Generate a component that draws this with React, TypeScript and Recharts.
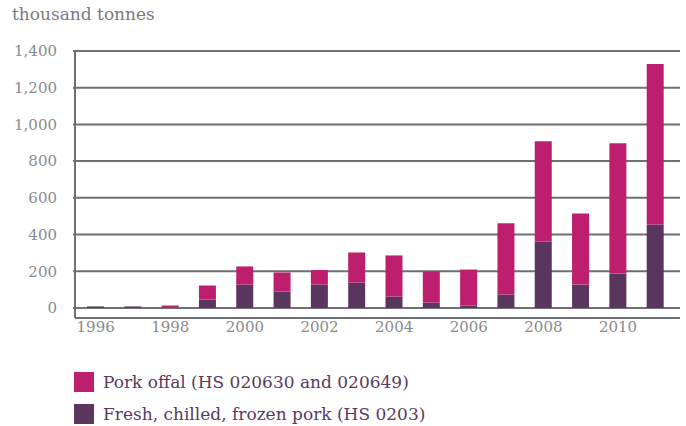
import { BarChart, Bar, XAxis, YAxis, CartesianGrid } from "recharts";

const years = [
  "1996", "1997", "1998", "1999", "2000", "2001", "2002", "2003",
  "2004", "2005", "2006", "2007", "2008", "2009", "2010", "2011",
];
// thousand tonnes
const freshPork = [8, 8, 3, 46, 127, 89, 127, 138, 62, 29, 13, 73, 362, 127, 187, 455];
const porkOffal = [0, 0, 10, 76, 99, 104, 79, 164, 224, 169, 196, 388, 546, 388, 710, 874];
const yTicks = [0, 200, 400, 600, 800, 1000, 1200, 1400];
const xTicks = ["1996", "1998", "2000", "2002", "2004", "2006", "2008", "2010"];

const series = [
  { key: "offal", name: "Pork offal (HS 020630 and 020649)", color: "#bd1f6e" },
  { key: "fresh", name: "Fresh, chilled, frozen pork (HS 0203)", color: "#5a355e" },
];

const data = years.map((year, i) => ({
  year,
  fresh: freshPork[i],
  offal: porkOffal[i],
}));

const gridColor = "#6f6f74";
const textFont = "'DejaVu Serif', serif";

const App = () => {
  return (
    <div
      style={{
        position: "absolute",
        left: 0,
        top: 0,
        width: 686,
        height: 426,
        background: "#fff",
        fontFamily: textFont,
      }}
    >
      <div
        style={{
          position: "absolute",
          left: 12,
          top: 4,
          fontSize: 17,
          color: "#7a7a7e",
        }}
      >
        thousand tonnes
      </div>
      <BarChart
        width={686}
        height={340}
        data={data}
        margin={{ top: 51, right: 6, left: 0, bottom: 0 }}
      >
        <CartesianGrid vertical={false} stroke={gridColor} strokeWidth={2} />
        <XAxis
          dataKey="year"
          ticks={xTicks}
          axisLine={false}
          tickLine={false}
          tickSize={0}
          tickMargin={3}
          height={22}
          padding={{ left: 2, right: 6 }}
          tick={{ fill: "#8a8a8e", fontSize: 15, fontFamily: textFont }}
        />
        <YAxis
          width={75}
          domain={[-55, 1400]}
          ticks={yTicks}
          allowDataOverflow
          axisLine={{ stroke: gridColor, strokeWidth: 2 }}
          tickLine={{ stroke: gridColor, strokeWidth: 2 }}
          tickSize={2}
          tickMargin={16}
          tickFormatter={(v: number) => v.toLocaleString("en-US")}
          tick={{ fill: "#8a8a8e", fontSize: 15, fontFamily: textFont }}
        />
        <Bar dataKey="fresh" stackId="a" fill="#5a355e" barSize={17} isAnimationActive={false} />
        <Bar dataKey="offal" stackId="a" fill="#bd1f6e" barSize={17} isAnimationActive={false} />
      </BarChart>
      {series.map((s, i) => (
        <div
          key={s.key}
          style={{
            position: "absolute",
            left: 74,
            top: 372 + i * 32,
            display: "flex",
            alignItems: "center",
            height: 20,
          }}
        >
          <div style={{ width: 20, height: 20, background: s.color }} />
          <span style={{ marginLeft: 9, fontSize: 17, color: "#5a3a5e", whiteSpace: "nowrap" }}>
            {s.name}
          </span>
        </div>
      ))}
    </div>
  );
};

export default App;
